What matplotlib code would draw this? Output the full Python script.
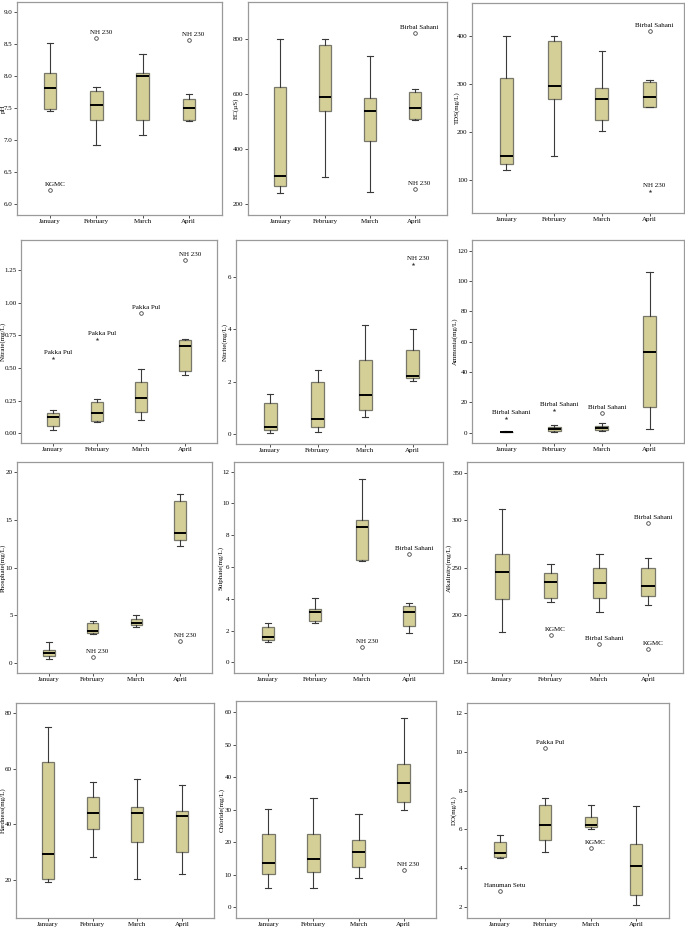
import matplotlib
matplotlib.use("Agg")
import matplotlib.pyplot as plt

plt.rcParams["font.family"] = ["Liberation Serif", "DejaVu Serif"]
plt.rcParams["font.size"] = 5

MONTHS = ["January", "February", "March", "April"]

# box stats per month: (low whisker, Q1, median, Q3, high whisker)
PH = [(7.46, 7.48, 7.81, 8.05, 8.52), (6.92, 7.31, 7.55, 7.77, 7.83),
      (7.08, 7.32, 8.00, 8.05, 8.34), (7.30, 7.31, 7.50, 7.65, 7.72)]
PH_OUT = [(1, 6.22, "KGMC", "o"), (2, 8.60, "NH 230", "o"), (4, 8.57, "NH 230", "o")]

EC = [(240, 266, 302, 625, 802), (298, 537, 591, 780, 802),
      (245, 430, 538, 585, 740), (505, 508, 548, 609, 617)]
EC_OUT = [(4, 822, "Birbal Sahani", "o"), (4, 256, "NH 230", "o")]

TDS = [(120, 133, 151, 313, 402), (150, 269, 296, 390, 402),
       (203, 226, 270, 293, 370), (252, 253, 274, 305, 310)]
TDS_OUT = [(4, 412, "Birbal Sahani", "o"), (4, 77, "NH 230", "*")]

NITRATE = [(0.025, 0.054, 0.127, 0.153, 0.177), (0.084, 0.094, 0.153, 0.242, 0.262),
           (0.104, 0.16, 0.272, 0.39, 0.492), (0.444, 0.477, 0.666, 0.716, 0.721)]
NITRATE_OUT = [(1, 0.574, "Pakka Pul", "*"), (2, 0.72, "Pakka Pul", "*"),
               (3, 0.918, "Pakka Pul", "o"), (4, 1.328, "NH 230", "o")]

NITRITE = [(0.05, 0.15, 0.29, 1.20, 1.52), (0.08, 0.27, 0.60, 1.98, 2.44),
           (0.66, 0.92, 1.48, 2.82, 4.16), (2.03, 2.14, 2.22, 3.21, 4.00)]
NITRITE_OUT = [(4, 6.47, "NH 230", "*")]

AMMONIA = [(0.2, 0.3, 0.5, 0.7, 0.9), (0.4, 0.9, 2.1, 3.8, 5.2),
           (1.2, 2.0, 3.4, 4.5, 6.4), (2.2, 16.9, 53.0, 77.0, 106.0)]
AMMONIA_OUT = [(1, 9.5, "Birbal Sahani", "*"), (2, 15.0, "Birbal Sahani", "*"),
               (3, 13.0, "Birbal Sahani", "o")]

PHOSPHATE = [(0.45, 0.77, 1.1, 1.4, 2.17), (3.05, 3.15, 3.35, 4.2, 4.37),
             (3.78, 4.0, 4.2, 4.65, 5.0), (12.3, 12.9, 13.6, 16.96, 17.7)]
PHOSPHATE_OUT = [(2, 0.59, "NH 230", "o"), (4, 2.27, "NH 230", "o")]

SULPHATE = [(1.25, 1.4, 1.6, 2.2, 2.45), (2.48, 2.59, 3.16, 3.37, 4.04),
            (6.4, 6.46, 8.53, 8.93, 11.5), (1.87, 2.29, 3.16, 3.56, 3.73)]
SULPHATE_OUT = [(3, 0.95, "NH 230", "o"), (4, 6.82, "Birbal Sahani", "o")]

ALKALINITY = [(182, 217, 245, 264, 312), (213, 218, 235, 244, 254),
              (203, 218, 234, 249, 264), (210, 220, 230, 250, 260)]
ALKALINITY_OUT = [(2, 178, "KGMC", "o"), (3, 169, "Birbal Sahani", "o"),
                  (4, 297, "Birbal Sahani", "o"), (4, 163, "KGMC", "o")]

HARDNESS = [(19.1, 20.2, 29.2, 62.6, 75.2), (28.2, 38.2, 44.2, 50.0, 55.2),
            (20.2, 33.6, 44.2, 46.2, 56.3), (22.3, 30.2, 43.2, 44.8, 54.2)]
HARDNESS_OUT = []

CHLORIDE = [(5.8, 10.3, 13.6, 22.5, 30.1), (5.8, 10.9, 14.9, 22.5, 33.6),
            (8.8, 12.3, 16.8, 20.7, 28.8), (29.9, 32.3, 38.2, 44.0, 58.3)]
CHLORIDE_OUT = [(4, 11.5, "NH 230", "o")]

DO = [(4.52, 4.57, 4.81, 5.36, 5.70), (4.86, 5.44, 6.25, 7.27, 7.65),
      (6.04, 6.15, 6.25, 6.63, 7.25), (2.10, 2.60, 4.14, 5.27, 7.20)]
DO_OUT = [(1, 2.80, "Hanuman Setu", "o"), (2, 10.2, "Pakka Pul", "o"),
          (3, 5.03, "KGMC", "o")]

W, H = 685, 933

# (stats, outliers, ylabel, yticks, tick format, ylim, axes px box l,r,t,b, ylabel x px)
PANELS = [
    (PH, PH_OUT, "pH", [6.0, 6.5, 7.0, 7.5, 8.0, 8.5, 9.0], "{:.1f}", (5.83, 9.16), (17, 222, 2, 215), 3),
    (EC, EC_OUT, "EC(µS)", [200, 400, 600, 800], "{:.0f}", (160, 935), (248, 447, 2, 215), 236),
    (TDS, TDS_OUT, "TDS(mg/L)", [100, 200, 300, 400], "{:.0f}", (31, 470), (472, 684, 3, 213), 457),
    (NITRATE, NITRATE_OUT, "Nitrate(mg/L)", [0, 0.25, 0.5, 0.75, 1.0, 1.25], "{:.2f}", (-0.074, 1.48), (21, 217, 240, 443), 3),
    (NITRITE, NITRITE_OUT, "Nitrite(mg/L)", [0, 2, 4, 6], "{:.0f}", (-0.37, 7.4), (236, 447, 240, 444), 225),
    (AMMONIA, AMMONIA_OUT, "Ammonia(mg/L)", [0, 20, 40, 60, 80, 100, 120], "{:.0f}", (-6.8, 127), (472, 684, 240, 443), 455),
    (PHOSPHATE, PHOSPHATE_OUT, "Phosphate(mg/L)", [0, 5, 10, 15, 20], "{:.0f}", (-1.05, 21.1), (17, 212, 462, 673), 3),
    (SULPHATE, SULPHATE_OUT, "Sulphate(mg/L)", [0, 2, 4, 6, 8, 10, 12], "{:.0f}", (-0.67, 12.6), (234, 443, 462, 673), 221),
    (ALKALINITY, ALKALINITY_OUT, "Alkalinity(mg/L)", [150, 200, 250, 300, 350], "{:.0f}", (138, 362), (467, 683, 462, 673), 449),
    (HARDNESS, HARDNESS_OUT, "Hardness(mg/L)", [20, 40, 60, 80], "{:.0f}", (6.3, 83.7), (16, 214, 703, 918), 3),
    (CHLORIDE, CHLORIDE_OUT, "Chloride(mg/L)", [0, 10, 20, 30, 40, 50, 60], "{:.0f}", (-3.4, 63.5), (236, 436, 701, 918), 222),
    (DO, DO_OUT, "DO(mg/L)", [2, 4, 6, 8, 10, 12], "{:.0f}", (1.43, 12.53), (467, 669, 703, 918), 454),
]

BOX_FC = "#d4cf97"
EDGE = "#77776a"

fig = plt.figure(figsize=(W / 100, H / 100), dpi=100)

for stats, outs, ylabel, yticks, fmt, ylim, (l, r, t, b), lx in PANELS:
    ax = fig.add_axes([l / W, 1 - b / H, (r - l) / W, (b - t) / H])
    bstats = [dict(whislo=s[0], q1=s[1], med=s[2], q3=s[3], whishi=s[4], fliers=[])
              for s in stats]
    ax.bxp(bstats, positions=[1, 2, 3, 4], widths=0.27, patch_artist=True,
           showfliers=False,
           boxprops=dict(facecolor=BOX_FC, edgecolor=EDGE, linewidth=0.9),
           medianprops=dict(color="black", linewidth=1.4),
           whiskerprops=dict(color="#3a3a3a", linewidth=0.8),
           capprops=dict(color="#3a3a3a", linewidth=0.8))
    for m, v, name, mk in outs:
        if mk == "o":
            ax.plot(m, v, marker="o", ms=2.6, mfc="white", mec="#444444", mew=0.6)
        else:
            ax.plot(m, v, marker="*", ms=2.8, color="#333333", mew=0)
        ax.annotate(name, (m, v), xytext=(3.5, 2.2), textcoords="offset points",
                    ha="center", va="bottom", fontsize=5)
    ax.set_xlim(0.28, 4.72)
    ax.set_ylim(*ylim)
    ax.set_xticks([1, 2, 3, 4])
    ax.set_xticklabels(MONTHS)
    ax.set_yticks(yticks)
    ax.set_yticklabels([fmt.format(v) for v in yticks])
    ax.tick_params(length=2.2, width=0.6, pad=1.0, labelsize=5, color="#333333")
    for sp in ax.spines.values():
        sp.set_color("#9a9a9a")
        sp.set_linewidth(0.9)
    fig.text(lx / W, 1 - (t + b) / 2 / H, ylabel, rotation=90, ha="center",
             va="center", fontsize=5)

fig.savefig("out.png", dpi=100)
